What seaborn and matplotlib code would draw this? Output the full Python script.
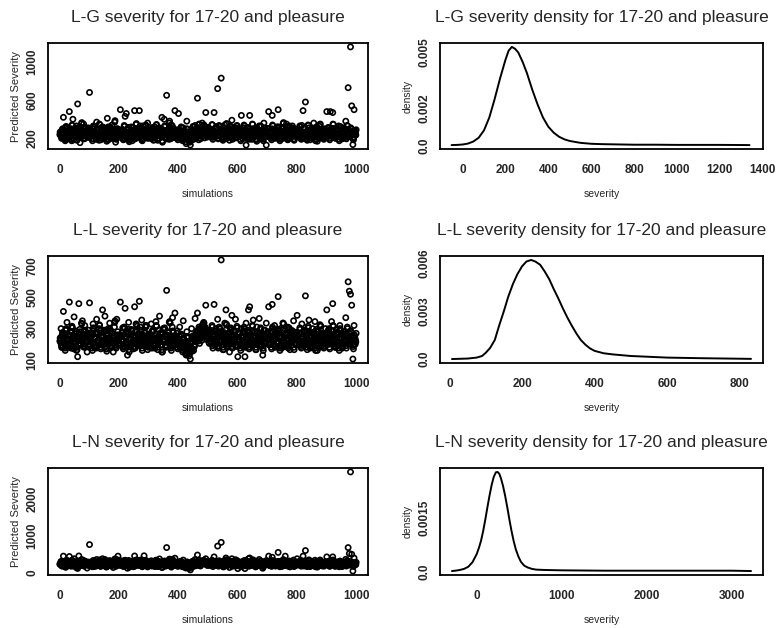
import numpy as np
import matplotlib
matplotlib.use('Agg')
import matplotlib.pyplot as plt
import seaborn as sns

sns.set_style('white')
plt.rcParams['font.family'] = ['Liberation Sans', 'DejaVu Sans']

W, H = 782, 628

# simulation index, split in four interleaved sets of 250 (1,5,9,.. / 3,7,.. / 2,6,.. / 4,8,..)
sims_a = np.arange(1, 1001, 4)
sims_b = np.arange(3, 1001, 4)
sims_c = np.arange(2, 1001, 4)
sims_d = np.arange(4, 1001, 4)

lg_sev = [
    240, 265, 210, 420, 285, 190, 250, 305, 480, 230, 175, 400, 260, 215, 330, 560, 245, 155, 290, 220, 350, 200, 270, 235, 310,
    680, 225, 260, 195, 300, 250, 370, 215, 180, 275, 240, 320, 205, 265, 230, 410, 185, 290, 250, 340, 215, 270, 160, 300, 245,
    235, 500, 280, 200, 255, 430, 460, 190, 310, 240, 270, 175, 225, 490, 260, 215, 295, 490, 250, 185, 330, 230, 270, 205, 360,
    245, 210, 290, 265, 180, 320, 230, 255, 200, 300, 240, 420, 270, 400, 215, 650, 285, 190, 250, 340, 225, 275, 490, 205, 260,
    460, 235, 280, 195, 310, 250, 220, 380, 265, 170, 130, 290, 240, 210, 335, 255, 620, 185, 275, 230, 360, 250, 205, 470, 280,
    240, 300, 215, 265, 190, 470, 255, 320, 720, 230, 285, 830, 250, 205, 340, 270, 225, 295, 180, 260, 390, 235, 275, 210, 310,
    255, 230, 285, 440, 200, 310, 245, 130, 270, 215, 440, 260, 190, 300, 235, 275, 170, 250, 330, 225, 280, 205, 360, 245, 130,
    230, 480, 265, 205, 440, 290, 250, 215, 320, 500, 240, 275, 195, 305, 260, 225, 350, 185, 280, 245, 210, 330, 265, 235, 295,
    250, 215, 290, 240, 335, 490, 200, 580, 265, 230, 310, 185, 275, 250, 360, 220, 290, 170, 260, 325, 235, 280, 205, 300, 245,
    480, 260, 225, 480, 300, 470, 240, 205, 285, 250, 330, 215, 270, 195, 310, 245, 380, 230, 730, 270, 1156, 540, 135, 500, 280,
]
lg_sev_b = [
    255, 200, 290, 230, 175, 315, 245, 210, 270, 190, 335, 225, 260, 300, 180, 240, 280, 215, 365, 250, 195, 305, 235, 270, 210,
    285, 240, 175, 320, 255, 205, 290, 230, 345, 185, 265, 215, 300, 245, 170, 280, 225, 310, 200, 260, 235, 385, 190, 275, 250,
    215, 270, 240, 185, 325, 255, 205, 290, 165, 245, 310, 230, 265, 195, 355, 240, 280, 210, 300, 175, 250, 225, 340, 260, 200,
    275, 230, 195, 305, 250, 215, 345, 180, 265, 235, 290, 160, 240, 320, 205, 275, 230, 380, 195, 255, 300, 215, 265, 240, 185,
    250, 205, 310, 175, 270, 230, 145, 295, 215, 160, 255, 185, 320, 240, 200, 280, 225, 350, 195, 265, 300, 340, 320, 250, 215,
    305, 265, 230, 340, 280, 215, 300, 250, 195, 325, 240, 270, 180, 290, 225, 355, 210, 260, 235, 315, 190, 275, 245, 205, 330,
    240, 290, 175, 265, 225, 330, 200, 255, 305, 190, 270, 235, 345, 215, 260, 185, 295, 240, 210, 320, 250, 175, 280, 230, 265,
    295, 215, 250, 185, 330, 240, 200, 275, 225, 310, 175, 260, 235, 365, 205, 285, 245, 190, 320, 225, 265, 300, 180, 250, 215,
    270, 235, 320, 190, 255, 215, 300, 245, 180, 335, 225, 265, 210, 290, 240, 175, 310, 255, 200, 350, 230, 270, 190, 285, 225,
    240, 305, 185, 265, 220, 345, 250, 200, 290, 230, 175, 315, 255, 210, 280, 240, 195, 330, 260, 220, 300, 245, 185, 270, 235,
]
lg_sev_c = [
    265, 220, 300, 245, 190, 325, 260, 215, 285, 235, 340, 205, 270, 310, 230, 250, 295, 225, 355, 260, 200, 315, 245, 280, 220,
    295, 250, 195, 330, 265, 215, 300, 240, 350, 205, 275, 225, 310, 255, 190, 290, 235, 320, 210, 270, 245, 370, 200, 285, 260,
    225, 280, 250, 200, 335, 265, 215, 300, 180, 255, 320, 240, 275, 210, 345, 250, 290, 220, 310, 190, 260, 235, 330, 270, 215,
    285, 240, 205, 315, 260, 225, 340, 195, 275, 245, 300, 175, 250, 330, 215, 285, 240, 360, 205, 265, 310, 225, 275, 250, 200,
    260, 215, 320, 190, 280, 240, 165, 300, 225, 175, 265, 200, 325, 250, 210, 290, 235, 345, 205, 275, 310, 330, 325, 260, 225,
    315, 275, 240, 345, 290, 225, 310, 260, 205, 335, 250, 280, 195, 300, 235, 350, 220, 270, 245, 325, 200, 285, 255, 215, 335,
    250, 300, 190, 275, 235, 340, 210, 265, 315, 200, 280, 245, 350, 225, 270, 195, 305, 250, 220, 330, 260, 190, 290, 240, 275,
    305, 225, 260, 200, 340, 250, 210, 285, 235, 320, 190, 270, 245, 355, 215, 295, 255, 205, 330, 235, 275, 310, 195, 260, 225,
    280, 245, 330, 205, 265, 225, 310, 255, 195, 340, 235, 275, 220, 300, 250, 190, 320, 265, 210, 345, 240, 280, 205, 295, 235,
    250, 315, 200, 275, 230, 350, 260, 210, 300, 240, 190, 325, 265, 220, 290, 250, 210, 335, 270, 230, 310, 255, 200, 280, 245,
]
lg_sev_d = [
    230, 285, 205, 260, 315, 240, 195, 275, 225, 300, 250, 185, 290, 235, 265, 210, 320, 245, 275, 200, 255, 230, 290, 215, 265,
    215, 270, 305, 230, 255, 190, 285, 245, 220, 310, 240, 265, 195, 280, 235, 320, 255, 205, 290, 230, 270, 215, 245, 300, 225,
    275, 215, 295, 245, 200, 270, 230, 315, 255, 210, 285, 240, 195, 300, 225, 265, 245, 330, 205, 280, 235, 295, 215, 250, 285,
    220, 265, 300, 240, 205, 285, 250, 225, 310, 260, 215, 290, 235, 270, 195, 255, 300, 220, 245, 330, 210, 260, 235, 290, 245,
    285, 240, 210, 265, 230, 195, 270, 185, 240, 205, 225, 265, 190, 280, 245, 315, 260, 225, 300, 240, 285, 300, 265, 215, 295,
    230, 290, 255, 210, 275, 245, 320, 225, 265, 240, 300, 215, 280, 250, 310, 200, 285, 240, 295, 220, 265, 310, 230, 270, 245,
    285, 220, 265, 240, 305, 215, 280, 245, 225, 295, 255, 210, 270, 235, 300, 250, 225, 285, 240, 205, 275, 250, 310, 225, 260,
    220, 270, 245, 300, 215, 280, 255, 235, 290, 205, 265, 240, 310, 230, 270, 215, 285, 250, 225, 300, 240, 260, 225, 295, 250,
    245, 290, 215, 270, 235, 310, 250, 220, 285, 240, 265, 205, 295, 230, 275, 250, 220, 305, 240, 265, 210, 290, 255, 230, 275,
    265, 220, 290, 245, 305, 230, 275, 250, 215, 295, 260, 235, 280, 205, 265, 300, 245, 225, 290, 255, 240, 270, 215, 260, 290,
]

ll_sev = [
    220, 300, 180, 410, 265, 200, 340, 235, 470, 190, 310, 250, 375, 215, 160, 120, 460, 280, 230, 350, 200, 320, 255, 150, 290,
    465, 240, 210, 330, 180, 270, 360, 225, 300, 195, 255, 420, 215, 380, 170, 290, 240, 335, 205, 270, 150, 310, 230, 360, 200,
    260, 470, 220, 305, 185, 430, 280, 130, 340, 240, 205, 290, 170, 440, 250, 315, 210, 475, 235, 355, 195, 275, 225, 320, 165,
    250, 200, 330, 225, 290, 175, 345, 240, 205, 380, 265, 150, 300, 230, 190, 545, 275, 215, 335, 160, 370, 245, 400, 210, 285,
    230, 310, 260, 190, 350, 215, 140, 280, 245, 125, 105, 300, 170, 235, 365, 260, 400, 220, 295, 250, 310, 330, 275, 450, 290,
    245, 205, 280, 230, 175, 455, 260, 215, 360, 190, 300, 740, 240, 165, 335, 420, 225, 270, 150, 305, 385, 210, 255, 360, 195,
    120, 270, 220, 300, 185, 250, 120, 335, 230, 420, 440, 205, 280, 355, 240, 165, 310, 225, 365, 195, 260, 130, 290, 215, 335,
    245, 440, 210, 285, 455, 230, 320, 190, 265, 505, 240, 300, 175, 335, 225, 270, 200, 310, 250, 165, 290, 215, 350, 235, 275,
    385, 230, 270, 205, 330, 250, 190, 510, 285, 225, 355, 175, 260, 300, 215, 345, 240, 160, 280, 230, 315, 195, 265, 250, 300,
    420, 250, 300, 215, 345, 460, 235, 180, 290, 260, 205, 320, 240, 175, 280, 230, 370, 215, 600, 540, 520, 450, 105, 320, 200,
]
ll_sev_b = [
    230, 180, 265, 210, 160, 290, 225, 195, 250, 175, 305, 205, 240, 275, 165, 220, 260, 195, 330, 230, 180, 280, 215, 245, 190,
    260, 220, 160, 295, 235, 185, 270, 210, 320, 170, 245, 195, 280, 225, 155, 255, 205, 285, 180, 240, 215, 350, 175, 250, 230,
    195, 250, 220, 170, 300, 235, 185, 265, 150, 225, 285, 210, 245, 175, 325, 220, 260, 190, 280, 160, 230, 205, 310, 240, 180,
    250, 210, 175, 280, 230, 195, 315, 165, 245, 215, 265, 150, 220, 295, 185, 250, 210, 345, 175, 235, 275, 195, 245, 220, 170,
    215, 175, 255, 150, 230, 190, 130, 240, 175, 140, 200, 155, 245, 185, 220, 270, 250, 300, 235, 290, 320, 335, 305, 270, 240,
    280, 245, 210, 310, 255, 195, 275, 230, 175, 300, 220, 250, 165, 265, 205, 325, 190, 240, 215, 290, 175, 250, 225, 185, 305,
    220, 265, 160, 245, 205, 300, 180, 235, 280, 170, 250, 215, 315, 195, 240, 165, 270, 220, 190, 295, 230, 160, 255, 210, 245,
    270, 195, 230, 170, 300, 220, 180, 250, 205, 285, 160, 240, 215, 330, 185, 260, 225, 175, 295, 205, 245, 275, 165, 230, 195,
    250, 215, 295, 175, 235, 195, 275, 225, 165, 305, 205, 245, 190, 265, 220, 160, 285, 235, 180, 320, 210, 250, 175, 260, 205,
    220, 280, 170, 245, 200, 315, 230, 180, 265, 210, 160, 290, 235, 190, 255, 220, 175, 300, 240, 200, 275, 225, 170, 250, 215,
]
ll_sev_c = [
    240, 195, 275, 220, 175, 300, 235, 205, 260, 185, 315, 215, 250, 285, 180, 230, 270, 205, 335, 240, 190, 290, 225, 255, 200,
    270, 230, 175, 305, 245, 195, 280, 220, 325, 180, 255, 205, 290, 235, 170, 265, 215, 295, 190, 250, 225, 340, 185, 260, 240,
    205, 260, 230, 180, 310, 245, 195, 275, 165, 235, 295, 220, 255, 185, 330, 230, 270, 200, 290, 175, 240, 215, 320, 250, 190,
    260, 220, 185, 290, 240, 205, 320, 180, 255, 225, 275, 165, 230, 305, 195, 260, 220, 340, 185, 245, 285, 205, 255, 230, 180,
    225, 185, 265, 165, 240, 200, 145, 250, 185, 150, 210, 170, 255, 195, 230, 280, 260, 310, 245, 300, 325, 340, 310, 280, 250,
    290, 255, 220, 320, 265, 205, 285, 240, 185, 310, 230, 260, 180, 275, 215, 330, 200, 250, 225, 300, 185, 260, 235, 195, 315,
    230, 275, 175, 255, 215, 310, 190, 245, 290, 180, 260, 225, 320, 205, 250, 180, 280, 230, 200, 305, 240, 175, 265, 220, 255,
    280, 205, 240, 180, 310, 230, 190, 260, 215, 295, 175, 250, 225, 335, 195, 270, 235, 185, 305, 215, 255, 285, 180, 240, 205,
    260, 225, 305, 185, 245, 205, 285, 235, 180, 315, 215, 255, 200, 275, 230, 175, 295, 245, 190, 325, 220, 260, 185, 270, 215,
    230, 290, 180, 255, 210, 320, 240, 190, 275, 220, 175, 300, 245, 200, 265, 230, 190, 310, 250, 210, 285, 235, 185, 260, 225,
]
ll_sev_d = [
    210, 255, 185, 240, 290, 220, 180, 250, 205, 275, 230, 170, 265, 215, 245, 195, 295, 225, 255, 185, 235, 210, 270, 195, 245,
    195, 250, 285, 210, 235, 175, 265, 225, 200, 290, 220, 245, 180, 260, 215, 300, 235, 190, 270, 210, 250, 195, 225, 280, 205,
    255, 195, 275, 225, 185, 250, 210, 295, 235, 190, 265, 220, 180, 280, 205, 245, 225, 310, 190, 260, 215, 275, 195, 230, 265,
    200, 245, 280, 220, 190, 265, 230, 205, 290, 240, 195, 270, 215, 250, 180, 235, 280, 200, 225, 310, 190, 240, 215, 270, 225,
    250, 205, 180, 230, 195, 165, 215, 150, 190, 160, 175, 215, 160, 245, 215, 285, 235, 205, 280, 225, 300, 310, 285, 230, 265,
    210, 270, 235, 190, 255, 225, 300, 205, 245, 220, 280, 195, 260, 230, 290, 185, 265, 220, 275, 200, 245, 290, 210, 250, 225,
    265, 200, 245, 220, 285, 195, 260, 225, 205, 275, 235, 190, 250, 215, 280, 230, 205, 265, 220, 185, 255, 230, 290, 205, 240,
    200, 250, 225, 280, 195, 260, 235, 215, 270, 185, 245, 220, 290, 210, 250, 195, 265, 230, 205, 280, 220, 240, 205, 275, 230,
    225, 270, 195, 250, 215, 290, 230, 200, 265, 220, 245, 185, 275, 210, 255, 230, 200, 285, 220, 245, 190, 270, 235, 210, 255,
    245, 200, 270, 225, 285, 210, 255, 230, 195, 275, 240, 215, 260, 185, 245, 280, 225, 205, 270, 235, 220, 250, 195, 240, 270,
]

ln_sev = [
    230, 310, 180, 450, 265, 150, 340, 215, 440, 195, 300, 250, 380, 205, 140, 120, 455, 275, 225, 345, 190, 320, 250, 130, 290,
    760, 235, 200, 330, 170, 265, 360, 220, 300, 185, 250, 380, 210, 360, 160, 285, 235, 330, 200, 265, 145, 310, 225, 355, 450,
    255, 330, 215, 300, 180, 340, 275, 125, 335, 235, 200, 285, 165, 455, 245, 310, 205, 340, 230, 350, 190, 460, 220, 315, 160,
    245, 195, 325, 220, 285, 170, 340, 235, 200, 375, 260, 145, 300, 225, 185, 680, 270, 210, 330, 155, 365, 240, 395, 205, 280,
    225, 305, 255, 185, 345, 210, 135, 275, 240, 120, 80, 295, 165, 230, 360, 255, 480, 215, 290, 245, 305, 325, 270, 380, 285,
    240, 200, 275, 225, 170, 430, 255, 210, 720, 185, 295, 820, 235, 160, 330, 400, 220, 265, 145, 300, 380, 205, 250, 355, 190,
    115, 265, 215, 295, 180, 245, 115, 330, 225, 380, 400, 200, 275, 350, 235, 160, 305, 220, 360, 190, 255, 125, 285, 210, 330,
    240, 450, 205, 280, 420, 225, 315, 185, 260, 550, 235, 295, 170, 330, 220, 450, 195, 305, 245, 160, 285, 210, 345, 230, 270,
    380, 225, 265, 200, 325, 450, 185, 600, 280, 220, 350, 170, 255, 295, 210, 340, 235, 155, 275, 225, 310, 190, 260, 245, 295,
    430, 245, 295, 210, 340, 430, 230, 175, 285, 255, 200, 315, 235, 170, 275, 225, 365, 210, 680, 520, 2710, 500, 50, 400, 220,
]
ln_sev_b = [
    240, 195, 280, 220, 165, 310, 235, 200, 260, 180, 330, 215, 250, 290, 170, 230, 275, 205, 355, 240, 185, 300, 225, 260, 200,
    275, 230, 165, 315, 245, 195, 285, 220, 340, 175, 255, 205, 295, 235, 160, 270, 215, 305, 190, 250, 225, 375, 180, 265, 240,
    205, 260, 230, 175, 320, 245, 195, 280, 155, 235, 300, 220, 255, 185, 345, 230, 270, 200, 290, 165, 240, 215, 330, 250, 190,
    265, 220, 185, 295, 240, 205, 335, 170, 255, 225, 280, 150, 230, 310, 195, 265, 220, 370, 185, 245, 290, 205, 255, 230, 175,
    240, 195, 300, 165, 260, 220, 135, 285, 205, 150, 245, 175, 310, 230, 190, 270, 215, 340, 185, 255, 290, 330, 310, 240, 205,
    295, 255, 220, 330, 270, 205, 290, 240, 185, 315, 230, 260, 170, 280, 215, 345, 200, 250, 225, 305, 180, 265, 235, 195, 320,
    230, 280, 165, 255, 215, 320, 190, 245, 295, 180, 260, 225, 335, 205, 250, 175, 285, 230, 200, 310, 240, 165, 270, 220, 255,
    285, 205, 240, 175, 320, 230, 190, 265, 215, 300, 165, 250, 225, 355, 195, 275, 235, 180, 310, 215, 255, 290, 170, 240, 205,
    260, 225, 310, 180, 245, 205, 290, 235, 170, 325, 215, 255, 200, 280, 230, 165, 300, 245, 190, 340, 220, 260, 180, 275, 215,
    230, 295, 175, 255, 210, 335, 240, 190, 280, 220, 165, 305, 245, 200, 270, 230, 185, 320, 250, 210, 290, 235, 175, 260, 225,
]
ln_sev_c = [
    250, 205, 290, 230, 180, 320, 245, 210, 270, 195, 340, 225, 260, 300, 185, 240, 285, 215, 350, 250, 195, 310, 235, 270, 210,
    285, 240, 180, 325, 255, 205, 295, 230, 345, 190, 265, 215, 305, 245, 175, 280, 225, 315, 200, 260, 235, 365, 190, 275, 250,
    215, 270, 240, 185, 330, 255, 205, 290, 170, 245, 310, 230, 265, 195, 340, 240, 280, 210, 300, 180, 250, 225, 335, 260, 200,
    275, 230, 195, 305, 250, 215, 340, 185, 265, 235, 290, 165, 240, 320, 205, 275, 230, 360, 195, 255, 300, 215, 265, 240, 190,
    250, 205, 310, 180, 270, 230, 150, 295, 215, 165, 255, 190, 315, 240, 200, 280, 225, 345, 195, 265, 300, 335, 320, 250, 215,
    305, 265, 230, 340, 280, 215, 300, 250, 195, 325, 240, 270, 185, 290, 225, 350, 210, 260, 235, 315, 190, 275, 245, 205, 330,
    240, 290, 180, 265, 225, 330, 200, 255, 305, 190, 270, 235, 340, 215, 260, 185, 295, 240, 210, 320, 250, 180, 280, 230, 265,
    295, 215, 250, 190, 330, 240, 200, 275, 225, 310, 180, 260, 235, 350, 205, 285, 245, 195, 320, 225, 265, 300, 185, 250, 215,
    270, 235, 320, 195, 255, 215, 300, 245, 185, 335, 225, 265, 210, 290, 240, 180, 310, 255, 200, 345, 230, 270, 195, 285, 225,
    240, 305, 190, 265, 220, 345, 250, 200, 290, 230, 180, 315, 255, 210, 280, 240, 195, 330, 260, 220, 300, 245, 190, 270, 235,
]
ln_sev_d = [
    225, 280, 200, 255, 310, 235, 190, 270, 220, 295, 245, 180, 285, 230, 260, 205, 315, 240, 270, 195, 250, 225, 285, 210, 260,
    210, 265, 300, 225, 250, 185, 280, 240, 215, 305, 235, 260, 190, 275, 230, 315, 250, 200, 285, 225, 265, 210, 240, 295, 220,
    270, 210, 290, 240, 195, 265, 225, 310, 250, 205, 280, 235, 190, 295, 220, 260, 240, 325, 200, 275, 230, 290, 210, 245, 280,
    215, 260, 295, 235, 200, 280, 245, 220, 305, 255, 210, 285, 230, 265, 190, 250, 295, 215, 240, 325, 205, 255, 230, 285, 240,
    280, 235, 205, 260, 225, 190, 265, 180, 235, 200, 220, 260, 185, 275, 240, 310, 255, 220, 295, 235, 280, 295, 260, 210, 290,
    225, 285, 250, 205, 270, 240, 315, 220, 260, 235, 295, 210, 275, 245, 305, 195, 280, 235, 290, 215, 260, 305, 225, 265, 240,
    280, 215, 260, 235, 300, 210, 275, 240, 220, 290, 250, 205, 265, 230, 295, 245, 220, 280, 235, 200, 270, 245, 305, 220, 255,
    215, 265, 240, 295, 210, 275, 250, 230, 285, 200, 260, 235, 305, 225, 265, 210, 280, 245, 220, 295, 235, 255, 220, 290, 245,
    240, 285, 210, 265, 230, 305, 245, 215, 280, 235, 260, 200, 290, 225, 270, 245, 215, 300, 235, 260, 205, 285, 250, 225, 270,
    260, 215, 285, 240, 300, 225, 270, 245, 210, 290, 255, 230, 275, 200, 260, 295, 240, 220, 285, 250, 235, 265, 210, 255, 285,
]

# density curves
lg_dx = [-51, -25, 0, 25, 50, 75, 100, 125, 150, 175, 200, 215, 230, 245, 260, 280, 300, 325, 350, 375, 400,
         425, 450, 475, 500, 550, 600, 650, 700, 800, 900, 1000, 1100, 1200, 1338]
lg_dy = [0.00001, 0.00002, 0.00004, 0.00009, 0.0002, 0.0004, 0.0008, 0.0015, 0.0025, 0.0036, 0.0046, 0.0051,
         0.0053, 0.0052, 0.0050, 0.0045, 0.0039, 0.0030, 0.0022, 0.0015, 0.0010, 0.00068, 0.00046, 0.00032,
         0.00023, 0.00013, 0.00008, 0.00006, 0.00005, 0.00003, 0.00003, 0.00002, 0.00002, 0.00002, 0.00001]

ll_dx = [7, 50, 75, 90, 100, 112, 125, 137, 150, 162, 175, 187, 200, 212, 225, 237, 250, 262, 275, 287, 300,
         312, 325, 337, 350, 362, 375, 387, 400, 425, 450, 500, 550, 600, 700, 800, 831]
ll_dy = [0.00001, 0.00004, 0.0001, 0.0002, 0.0004, 0.0007, 0.0012, 0.0021, 0.0030, 0.0039, 0.0047, 0.0053,
         0.0058, 0.0061, 0.0062, 0.0061, 0.0059, 0.0055, 0.0050, 0.0044, 0.0038, 0.0032, 0.0026, 0.0021,
         0.0016, 0.0012, 0.0009, 0.00068, 0.00052, 0.00037, 0.0003, 0.0002, 0.00015, 0.0001, 0.00006,
         0.00003, 0.00002]

ln_dx = [-292, -250, -200, -150, -100, -50, 0, 25, 50, 75, 100, 125, 150, 175, 200, 225, 245, 265, 285, 310,
         335, 360, 385, 410, 435, 460, 490, 520, 560, 600, 650, 700, 800, 1000, 1500, 2000, 2500, 3000, 3230]
ln_dy = [0.00001, 0.00002, 0.00004, 0.00007, 0.00013, 0.00026, 0.00049, 0.00066, 0.00086, 0.00113, 0.00145,
         0.0018, 0.00213, 0.00243, 0.00266, 0.00279, 0.0028, 0.00275, 0.00262, 0.0024, 0.00212, 0.0018,
         0.00145, 0.00113, 0.00085, 0.00062, 0.00042, 0.00027, 0.00016, 0.00011, 0.00007, 0.00005, 0.00004,
         0.00003, 0.00002, 0.00002, 0.00002, 0.00002, 0.00001]

groups = ['L-G', 'L-L', 'L-N']
sims_all = np.concatenate([sims_a, sims_b, sims_c, sims_d])
sev_data = [lg_sev + lg_sev_b + lg_sev_c + lg_sev_d,
            ll_sev + ll_sev_b + ll_sev_c + ll_sev_d,
            ln_sev + ln_sev_b + ln_sev_c + ln_sev_d]
dens_data = [(lg_dx, lg_dy), (ll_dx, ll_dy), (ln_dx, ln_dy)]

sc_yticks = [
    ([200, 400, 600, 800, 1000], ['200', '', '600', '', '1000']),
    ([100, 200, 300, 400, 500, 600, 700], ['100', '', '300', '', '500', '', '700']),
    ([0, 500, 1000, 1500, 2000, 2500], ['0', '', '1000', '', '2000', '']),
]
dn_xticks = [
    [0, 200, 400, 600, 800, 1000, 1200, 1400],
    [0, 200, 400, 600, 800],
    [0, 1000, 2000, 3000],
]
dn_yticks = [
    ([0, 0.001, 0.002, 0.003, 0.004, 0.005], ['0.0', '', '0.002', '', '', '0.005']),
    ([0, 0.001, 0.002, 0.003, 0.004, 0.005, 0.006], ['0.0', '', '', '0.003', '', '', '0.006']),
    ([0, 0.0005, 0.001, 0.0015, 0.002, 0.0025], ['0.0', '', '', '0.0015', '', '']),
]

# axes boxes in pixels: (top, bottom) per row, (left, right) per column
rows_px = [(43, 149), (256, 363), (468, 575)]
left_px = (48, 368)
right_px = (440, 763)


def box(x0, x1, y0, y1):
    return [x0 / W, 1 - y1 / H, (x1 - x0) / W, (y1 - y0) / H]


def style(ax):
    for s in ax.spines.values():
        s.set_visible(True)
        s.set_color('black')
        s.set_linewidth(1.3)
    ax.tick_params(direction='out', length=4, width=0.9, color='black', labelsize=8.5)
    ax.tick_params(axis='x', pad=7)
    ax.tick_params(axis='y', pad=3)
    for lab in ax.get_xticklabels() + ax.get_yticklabels():
        lab.set_fontweight('bold')
    plt.setp(ax.get_yticklabels(), rotation=90, va='center')


fig = plt.figure(figsize=(W / 100, H / 100), dpi=100)

for i, g in enumerate(groups):
    y0, y1 = rows_px[i]

    ax = fig.add_axes(box(left_px[0], left_px[1], y0, y1))
    sns.scatterplot(x=sims_all, y=sev_data[i], ax=ax, marker='o', s=14,
                    fc='none', ec='black', linewidth=1.2)
    ax.margins(x=0.04, y=0.04)
    ax.set_xticks([0, 200, 400, 600, 800, 1000])
    ax.set_yticks(sc_yticks[i][0])
    ax.set_yticklabels(sc_yticks[i][1])
    style(ax)
    ax.set_xlabel('simulations', fontsize=7.5, labelpad=9)
    ax.set_ylabel('Predicted Severity', fontsize=8, labelpad=4)
    ax.set_title(f'{g} severity for 17-20 and pleasure', fontsize=12.5, pad=15)

    ax = fig.add_axes(box(right_px[0], right_px[1], y0, y1))
    dx, dy = dens_data[i]
    sns.lineplot(x=dx, y=dy, ax=ax, color='black', linewidth=1.4, estimator=None)
    ax.margins(x=0.04, y=0.04)
    if i == 0:
        ax.set_xlim(-105, 1401)
    ax.set_xticks(dn_xticks[i])
    ax.set_yticks(dn_yticks[i][0])
    ax.set_yticklabels(dn_yticks[i][1])
    style(ax)
    ax.set_xlabel('severity', fontsize=7.5, labelpad=9)
    ax.set_ylabel('density', fontsize=7.5, labelpad=4)
    ax.set_title(f'{g} severity density for 17-20 and pleasure', fontsize=12.5, pad=15)

fig.savefig('out.png', dpi=100)
